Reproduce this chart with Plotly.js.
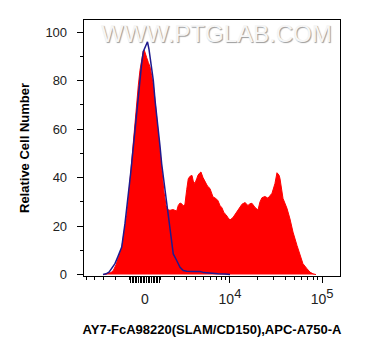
<!DOCTYPE html>
<html>
<head>
<meta charset="utf-8">
<script src="https://cdn.plot.ly/plotly-3.0.1.min.js"></script>
<style>html,body{margin:0;padding:0;background:#fff;}#chart{width:374px;height:356px;}</style>
</head>
<body>
<div id="chart"></div>
<script>
// x values are in display units of the biexponential axis (decades; 0 = zero, ~0.917 = 10^4)
const redX = [-0.442,-0.399,-0.367,-0.342,-0.313,-0.286,-0.251,-0.234,-0.216,-0.197,-0.178,-0.162,-0.137,-0.113,-0.090,-0.072,-0.054,-0.032,-0.018,-0.008,0.005,0.018,0.036,0.054,0.072,0.090,0.108,0.133,0.162,0.183,0.205,0.227,0.248,0.270,0.302,0.342,0.359,0.378,0.396,0.413,0.431,0.450,0.467,0.485,0.507,0.521,0.539,0.558,0.572,0.593,0.604,0.626,0.647,0.674,0.701,0.734,0.761,0.787,0.809,0.831,0.852,0.874,0.895,0.917,0.949,0.982,1.025,1.046,1.079,1.111,1.133,1.154,1.187,1.219,1.241,1.262,1.294,1.327,1.348,1.370,1.402,1.424,1.446,1.456,1.489,1.510,1.532,1.564,1.597,1.640,1.672,1.704,1.748,1.780,1.812,1.845];
const redY = [0,0.3,0.8,1.65,4,7,11,15.4,20,24.5,31.5,38.8,49,60,72,78,84.3,89.7,92.3,92.6,90.5,89.5,87.5,85.7,82,78,71.9,62.3,50,42,34,28.5,26.7,26.5,26.8,26.2,28.5,29.5,29.2,28.3,29,35,39.5,40.5,40.9,38.5,37.6,39.5,41,42,42.3,40,38.2,36.5,35.5,32,31.5,30.5,28.5,27.5,25.5,24.7,23.5,22.5,23.5,25.5,27.7,29,29.7,28.5,29.2,29.4,27.7,26.6,30,31.7,32.2,31.5,32.5,33.5,37.5,42,41,39.7,31.4,29.5,27.3,23,17.5,12,7.9,4.5,2.4,1.0,0.3,0];
const blueX = [-0.453,-0.421,-0.388,-0.356,-0.324,-0.291,-0.251,-0.216,-0.180,-0.151,-0.126,-0.097,-0.072,-0.054,-0.036,-0.018,0,0.011,0.027,0.043,0.059,0.076,0.090,0.108,0.126,0.143,0.162,0.180,0.205,0.227,0.248,0.270,0.288,0.305,0.342,0.378,0.413,0.450,0.539,0.593,0.636,0.701,0.787,0.863,0.917];
const blueY = [0,0.3,1,2.5,4.5,7.5,11.3,21,32,43,52.6,64,76,82,87,92,93.8,94.5,96,93,88.5,84,80,72,66,60.9,53,45.7,38,32,23.7,17,11.3,8.5,5.8,3.0,1.65,1.4,1.3,1.3,0.8,0.5,0.3,0.2,0];

// tick values in fluorescence units
const majorVals = [0, 10000, 100000];
const majorText = ['0', '10<sup><span style="font-size:13px">4</span></sup>', '10<sup><span style="font-size:13px">5</span></sup>'];
const clusterVals = [-900,-800,-700,-600,-500,-400,-300,-200,-100,100,200,300,400,500,600,700,800,900];
const minorVals = [-5000,-4000,-3000,-2000,-1000,1000,2000,3000,4000,5000,6000,7000,8000,9000,20000,30000,40000,50000,60000,70000,80000,90000];
const yTicks = [0,20,40,60,80,100];

const C = 2457;
function biex(v){ return Math.asinh(v / C) / Math.LN10; }

const font = 'Liberation Sans, Arial, sans-serif';
const xRange = [-0.658, 2.104];

const data = [
  {x: redX, y: redY, type: 'scatter', mode: 'lines', fill: 'tozeroy',
   fillcolor: '#ff0000', line: {color: '#ff0000', width: 1}, hoverinfo: 'skip'},
  {x: blueX, y: blueY, type: 'scatter', mode: 'lines',
   line: {color: '#1f1a8f', width: 1.5}, hoverinfo: 'skip'},
  {x: [], y: [], type: 'scatter', mode: 'lines', xaxis: 'x2', hoverinfo: 'skip'}
];

const layout = {
  width: 374, height: 356,
  margin: {l: 84, r: 34, t: 20, b: 80},
  paper_bgcolor: '#ffffff', plot_bgcolor: '#ffffff',
  showlegend: false,
  font: {family: font, color: '#222'},
  xaxis: {
    range: xRange, showgrid: false, zeroline: false,
    showline: true, mirror: true, linecolor: '#000', linewidth: 1.3,
    tickmode: 'array', tickvals: majorVals.map(biex), ticktext: majorText,
    ticks: 'outside', ticklen: 6, tickwidth: 1, tickcolor: '#000',
    ticklabelstandoff: 4,
    tickfont: {size: 14, color: '#222', family: font},
    minor: {tickmode: 'array', tickvals: minorVals.map(biex), ticks: 'outside', ticklen: 3, tickwidth: 1, tickcolor: '#000', showgrid: false},
    title: {text: '<b>AY7-FcA98220(SLAM/CD150),APC-A750-A</b>', font: {size: 13, color: '#000', family: font}, standoff: 18}
  },
  xaxis2: {
    overlaying: 'x', side: 'bottom', anchor: 'y', range: xRange,
    showgrid: false, zeroline: false, showline: false, showticklabels: false,
    tickmode: 'array', tickvals: clusterVals.map(biex),
    ticks: 'outside', ticklen: 6, tickwidth: 1, tickcolor: '#000'
  },
  yaxis: {
    range: [-0.6, 105], showgrid: false, zeroline: false,
    showline: true, mirror: true, linecolor: '#000', linewidth: 1.3,
    tickmode: 'array', tickvals: yTicks,
    ticks: 'outside', ticklen: 6, tickwidth: 1, tickcolor: '#000',
    ticklabelstandoff: 7,
    tickfont: {size: 13, color: '#222', family: font},
    minor: {dtick: 10, ticks: 'outside', ticklen: 3, tickwidth: 1, tickcolor: '#000', showgrid: false},
    title: {text: '<b>Relative Cell Number</b>', font: {size: 13, color: '#000', family: font}, standoff: 12}
  },
  annotations: [{
    text: 'WWW.PTGLAB.COM', xref: 'paper', yref: 'paper', x: 0.518, y: 0.949,
    xanchor: 'center', yanchor: 'middle', showarrow: false,
    font: {size: 24, color: '#f6f6f6', family: font, shadow: '1px 1px 1px #9a9a9a'}
  }]
};

Plotly.newPlot('chart', data, layout, {staticPlot: true, displayModeBar: false});
</script>
</body>
</html>
